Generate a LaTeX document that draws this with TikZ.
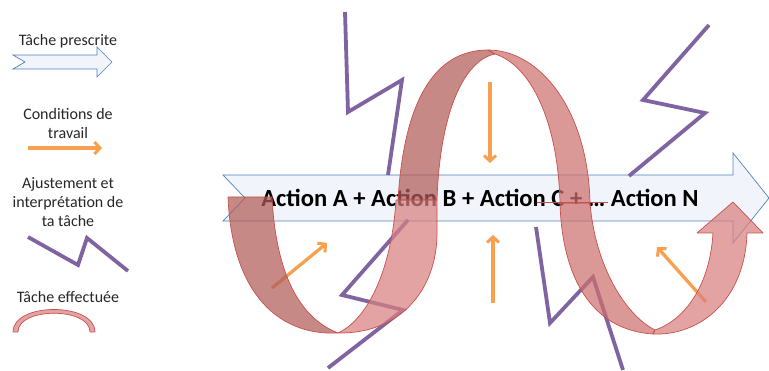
\documentclass[tikz,border=0pt]{standalone}
\usepackage{fontspec}
\setmainfont{Carlito}
\usetikzlibrary{arrows.meta}
\definecolor{blueedge}{RGB}{79,129,189}
\definecolor{bluefill}{RGB}{241,244,250}
\definecolor{orangec}{RGB}{247,160,80}
\definecolor{purplec}{RGB}{128,100,162}
\definecolor{redge}{RGB}{200,80,75}
\definecolor{rdark}{RGB}{176,92,88}
\definecolor{rmid}{RGB}{204,112,110}
\definecolor{rlight}{RGB}{216,128,128}
\begin{document}
\begin{tikzpicture}[x=1pt,y=-1pt,
  chevron/.style={draw=blueedge,line width=0.7pt,fill=bluefill},
  cond/.style={draw=orangec,line width=3.3pt,-{Straight Barb[length=5.5pt,width=12pt,line width=3pt]}},
  adjust/.style={draw=purplec,line width=3.8pt,line join=miter},
  rib/.style={draw=redge,line width=0.7pt,fill opacity=0.72,line join=round},
  legend/.style={font=\fontsize{16}{19}\selectfont,align=center,text=black!85},
  maintext/.style={font=\fontsize{24.6}{28}\selectfont\bfseries,text=black}]
\useasboundingbox (0,0) rectangle (769,371);

% ---------------- legend ----------------
\node[legend,anchor=base] (lg1) at (68,46) {Tâche prescrite};
\draw[chevron] (13,55) -- (97,55) -- (97,47) -- (112,62) -- (97,77) -- (97,69) -- (13,69) -- (25,62) -- cycle;

\node[legend,anchor=base] (lg2) at (68,139) {Conditions de\\travail};
\coordinate (lo1) at (28,148);
\coordinate (lo2) at (102,148);
\draw[cond] (lo1) -- (lo2);

\node[legend,anchor=base] (lg3) at (68,227) {Ajustement et\\interprétation de\\ta tâche};
\coordinate (lp1) at (28,237);
\coordinate (lp2) at (78,265);
\coordinate (lp3) at (87,238);
\coordinate (lp4) at (128,271);
\draw[adjust] (lp1) -- (lp2) -- (lp3) -- (lp4);

\node[legend,anchor=base] (lg4) at (68,303) {Tâche effectuée};
\draw[rib,fill=rlight] (13,332) .. controls (13,302) and (95,302) .. (95,332) -- (90,332)
   .. controls (90,307) and (18,307) .. (18,332) -- cycle;

% ---------------- main arrow ----------------
\draw[chevron] (223,175) -- (733,175) -- (733,153) -- (769,198) -- (733,243) -- (733,221) -- (223,221) -- (245,198) -- cycle;
\node[maintext,anchor=base] (main) at (480,207) {Action A + Action B + Action C + … Action N};

% ---------------- purple zigzags ----------------
\coordinate (a1) at (345,12);  \coordinate (a2) at (348,112);
\coordinate (a3) at (402,80);  \coordinate (a4) at (388,175);
\draw[adjust] (a1) -- (a2) -- (a3) -- (a4);
\coordinate (b1) at (408,220); \coordinate (b2) at (342,295);
\coordinate (b3) at (403,310); \coordinate (b4) at (328,368);
\draw[adjust] (b1) -- (b2) -- (b3) -- (b4);
\coordinate (c1) at (709,25);  \coordinate (c2) at (643,100);
\coordinate (c3) at (705,113); \coordinate (c4) at (629,176);
\draw[adjust] (c1) -- (c2) -- (c3) -- (c4);
\coordinate (d1) at (536,227); \coordinate (d2) at (550,323);
\coordinate (d3) at (593,277); \coordinate (d4) at (623,370);
\draw[adjust] (d1) -- (d2) -- (d3) -- (d4);

% ---------------- orange arrows ----------------
\coordinate (o1s) at (272,288); \coordinate (o1e) at (327,243);
\draw[cond] (o1s) -- (o1e);
\coordinate (o2s) at (490,82);  \coordinate (o2e) at (490,163);
\draw[cond] (o2s) -- (o2e);
\coordinate (o3s) at (493,303); \coordinate (o3e) at (493,235);
\draw[cond] (o3s) -- (o3e);
\coordinate (o4s) at (706,302); \coordinate (o4e) at (657,247);
\draw[cond] (o4s) -- (o4e);

% ---------------- ribbon ----------------
% left crescent
\draw[rib,fill=rdark] (228,197) -- (272,197) .. controls (276,275) and (300,318) .. (338,333)
   .. controls (280,336) and (232,295) .. (228,197) -- cycle;
% rising part of first loop
\draw[rib,fill=rlight] (338,333) .. controls (370,318) and (392,265) .. (396,200) -- (437,200) -- (437,233)
   .. controls (437,290) and (400,334) .. (338,333) -- cycle;
% arch, left side
\draw[rib,fill=rdark] (398,200) .. controls (404,100) and (435,50) .. (488,50) -- (495,54)
   .. controls (465,60) and (440,110) .. (437,200) -- cycle;
% arch, right side
\draw[rib,fill=rmid] (488,50) .. controls (540,50) and (588,110) .. (590,203) -- (560,203)
   .. controls (558,120) and (530,65) .. (495,54) -- cycle;
% descending part
\draw[rib,fill=rmid] (560,203) -- (590,203) .. controls (595,265) and (625,315) .. (655,330) -- (653,334)
   .. controls (590,330) and (562,275) .. (560,203) -- cycle;
\draw[redge,line width=0.8pt] (537,202) -- (608,202);
% rising arrow
\draw[rib,fill=rlight] (655,330) .. controls (685,320) and (710,285) .. (713,233) -- (697,233) -- (733,202)
   -- (763,233) -- (747,233) .. controls (745,300) and (700,336) .. (653,334) -- cycle;
\end{tikzpicture}
\end{document}
